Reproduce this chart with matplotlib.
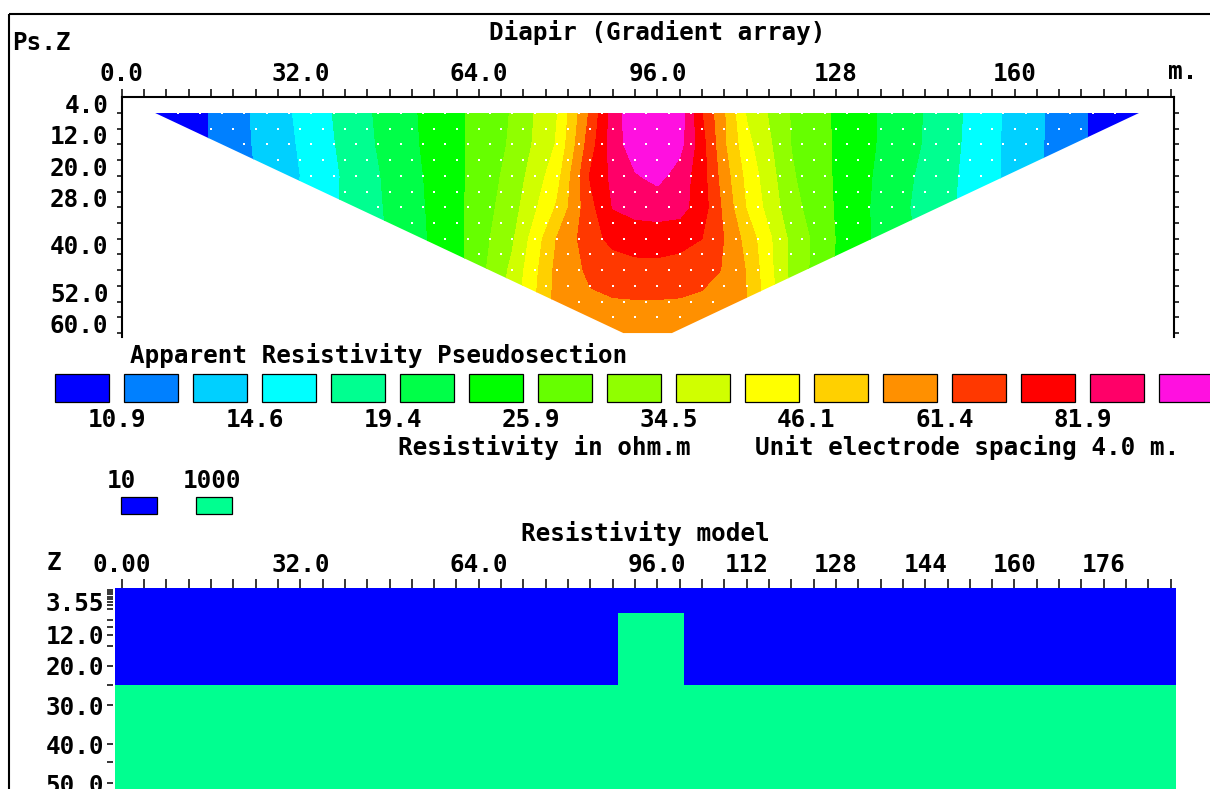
import numpy as np
import matplotlib
matplotlib.use("Agg")
import matplotlib.pyplot as plt
from matplotlib.patches import Polygon, Rectangle
from matplotlib.colors import ListedColormap, BoundaryNorm

plt.rcParams['font.family'] = ['DejaVu Sans Mono']
plt.rcParams['font.weight'] = 'bold'
plt.rcParams['font.size'] = 17.5

W, H = 1210, 789

# ------------------------------------------------------------------ data
title = "Diapir (Gradient array)"

# apparent resistivity (ohm.m)
ps_x = [0, 16, 32, 48, 60, 70, 78, 84, 88, 92, 96, 100, 104, 108, 112, 120, 130, 142, 156, 172, 188]
ps_depth = [4, 12, 20, 28, 36, 44, 52, 60]
ps_rho_d4 = [8.3, 11.0, 15.0, 20.6, 25.1, 30.2, 39.7, 63.0, 87.2, 106, 114, 103, 71.0, 53.6, 39.3, 29.6, 24.5, 20.0, 15.1, 11.1, 8.5]
ps_rho_d12 = [8.3, 11.0, 14.8, 20.4, 25.1, 30.5, 40.4, 66.7, 87.1, 103, 109, 99, 74.6, 54.1, 41.7, 29.8, 24.5, 19.9, 15.0, 11.1, 8.5]
ps_rho_d20 = [8.3, 10.9, 14.6, 20.0, 25.0, 31.4, 43.5, 71.9, 84.6, 93.3, 99, 88.8, 75.1, 56.7, 44.2, 30.4, 24.4, 19.4, 15.0, 11.1, 8.5]
ps_rho_d28 = [8.4, 11.2, 14.8, 19.8, 24.9, 32.4, 46.9, 67.9, 82.3, 85.3, 85.9, 85.9, 76.2, 59.0, 45.6, 31.4, 24.3, 19.1, 15.0, 11.1, 8.5]
ps_rho_d36 = [8.5, 11.3, 15.0, 19.6, 24.8, 33.8, 53.6, 67.0, 73.9, 76.6, 77.3, 75.1, 70.9, 61.1, 50.6, 33.2, 24.2, 19.4, 15.0, 11.1, 8.5]
ps_rho_d44 = [8.5, 11.3, 15.0, 19.6, 24.5, 35.6, 55.4, 63.2, 65.5, 67.0, 67.0, 66.0, 64.0, 60.9, 52.7, 33.0, 24.1, 19.4, 15.0, 11.1, 8.5]
ps_rho_d52 = [8.5, 11.3, 15.0, 19.6, 24.5, 37.1, 55.9, 60.0, 60.8, 61.0, 61.0, 60.8, 60.0, 57.2, 53.2, 34.5, 24.1, 19.4, 15.0, 11.1, 8.5]
ps_rho_d60 = [8.5, 11.3, 15.0, 19.6, 24.5, 37.0, 54.0, 58.0, 59.5, 60.0, 60.0, 59.5, 58.0, 56.0, 53.0, 34.5, 24.1, 19.4, 15.0, 11.1, 8.5]

# outline of the data coverage (x in m, pseudo depth in m)
ps_outline_x = [6.0, 182.3, 98.6, 89.9]
ps_outline_z = [4.0, 4.0, 60.0, 60.0]

# rows of data points (white dots)
dot_depth = [4, 8, 12, 16, 20, 24, 28, 32, 36, 40, 44, 48, 52, 56]
dot_first = [10, 16, 22, 28, 34, 40, 46, 52, 58, 64, 70, 76, 82, 88]
dot_last = [178, 172, 166, 160, 154, 148, 142, 136, 130, 124, 118, 112, 106, 100]
electrode_spacing = 4.0

contour_levels = [10.9, 12.6, 14.6, 16.8, 19.4, 22.4, 25.9, 29.9, 34.5,
                  39.9, 46.1, 53.2, 61.4, 70.9, 81.9, 94.6]
legend_labels = ["10.9", "14.6", "19.4", "25.9", "34.5", "46.1", "61.4", "81.9"]
level_colors = ["#0000FF", "#0080FF", "#00D0FF", "#00FFFF", "#00FF90", "#00FF48",
                "#00FF00", "#66FF00", "#90FF00", "#D0FF00", "#FFFF00", "#FFD000",
                "#FF9000", "#FF3800", "#FF0000", "#FF0068", "#FF10E0"]

ps_xtick_pos = [0, 32, 64, 96, 128, 160]
ps_xtick_lab = ["0.0", "32.0", "64.0", "96.0", "128", "160"]
ps_ytick_pos = [4, 12, 20, 28, 40, 52, 60]
ps_ytick_lab = ["4.0", "12.0", "20.0", "28.0", "40.0", "52.0", "60.0"]

# resistivity model
model_x_edges = [-1.2, 88.9, 100.8, 188.9]
model_z_edges = [0.0, 6.4, 24.9, 60.0]
model_rho = [[10, 10, 10],
             [10, 1000, 10],
             [1000, 1000, 1000]]
model_values = [10, 1000]
model_value_labels = ["10", "1000"]
model_colors = ["#0000FF", "#00FF90"]
model_xtick_pos = [0, 32, 64, 96, 112, 128, 144, 160, 176]
model_xtick_lab = ["0.00", "32.0", "64.0", "96.0", "112", "128", "144", "160", "176"]
model_ytick_pos = [3.55, 12.0, 20.0, 30.0, 40.0, 50.0]
model_ytick_lab = ["3.55", "12.0", "20.0", "30.0", "40.0", "50.0"]
model_layer_ticks = [0.5, 1.1, 1.7, 2.3, 2.9, 4.4, 5.4, 8.2, 10.1, 14.8, 24.9, 44.6]

# ------------------------------------------------------------------ figure
fig = plt.figure(figsize=(W / 100, H / 100), dpi=100)


def px_axes(l, t, r, b, **kw):
    return fig.add_axes([l / W, 1 - b / H, (r - l) / W, (b - t) / H], **kw)


# ---------------- pseudosection
ax = px_axes(121.7, 97.3, 1174.1, 337.0)
ax.set_xlim(0, 188.6)
ax.set_ylim(61, 0)
Z = np.log10(np.array([ps_rho_d4, ps_rho_d12, ps_rho_d20, ps_rho_d28,
                       ps_rho_d36, ps_rho_d44, ps_rho_d52, ps_rho_d60]))
levels = np.log10([1.0] + contour_levels + [1.0e4])
cs = ax.contourf(ps_x, ps_depth, Z, levels=levels, colors=level_colors)
clip = Polygon(np.column_stack([ps_outline_x, ps_outline_z]), closed=True,
               transform=ax.transData, facecolor='none', edgecolor='none')
cs.set_clip_path(clip)

dx, dz = [], []
for d, a, b in zip(dot_depth, dot_first, dot_last):
    row = np.arange(a, b + 0.1, electrode_spacing)
    dx.extend(row)
    dz.extend([d] * len(row))
ax.scatter(dx, dz, s=2.2, c='white', marker='s', linewidths=0, zorder=3)

xt = np.arange(0, 189, electrode_spacing)
ax.xaxis.tick_top()
ax.set_xticks(xt)
lab = dict(zip(ps_xtick_pos, ps_xtick_lab))
ax.set_xticklabels([lab.get(int(v), '') for v in xt])
yt = np.arange(4, 61, 4)
ax.set_yticks(yt)
lab = dict(zip(ps_ytick_pos, ps_ytick_lab))
ax.set_yticklabels([lab.get(int(v), '') for v in yt])
for t in ax.get_yticklabels():
    t.set_verticalalignment('baseline')
ax.tick_params(axis='x', direction='out', length=5.8, width=1.1, pad=2,
               top=True, bottom=False, labeltop=True, labelbottom=False)
ax.tick_params(axis='y', direction='out', length=3.6, width=1.1, pad=6,
               left=True, right=True, labelright=False)
ax.spines['bottom'].set_visible(False)
for s in ('left', 'top', 'right'):
    ax.spines[s].set_linewidth(1.5)

# ---------------- resistivity model
axm = px_axes(113.0, 587.8, 1176.3, 789.0)
axm.set_xlim(-1.56, 189.0)
axm.set_ylim(51.46, 0)
cmap = ListedColormap(model_colors)
norm = BoundaryNorm([1, 100, 1e5], cmap.N)
axm.pcolormesh(model_x_edges, model_z_edges, np.array(model_rho), cmap=cmap, norm=norm)
for s in axm.spines.values():
    s.set_visible(False)
axm.xaxis.tick_top()
axm.set_xticks(xt)
lab = dict(zip(model_xtick_pos, model_xtick_lab))
axm.set_xticklabels([lab.get(int(v), '') for v in xt])
axm.set_yticks(model_ytick_pos)
axm.set_yticklabels(model_ytick_lab)
axm.set_yticks(model_layer_ticks, minor=True)
axm.tick_params(axis='x', direction='out', length=6.5, width=1.1, pad=1,
                top=True, bottom=False, labeltop=True, labelbottom=False)
axm.tick_params(axis='y', which='both', direction='out', length=4.3, width=1.1, pad=2)

# ---------------- overlay: texts, legend, frame
ov = fig.add_axes([0, 0, 1, 1], zorder=5)
ov.set_xlim(0, W)
ov.set_ylim(H, 0)
ov.axis('off')
ov.patch.set_visible(False)

ov.plot([9, 9], [H, 14], color='black', lw=1.5, solid_capstyle='butt')
ov.plot([9, W], [14, 14], color='black', lw=1.5, solid_capstyle='butt')

ov.text(657, 32, title, ha='center', va='center')
ov.text(12, 43, "Ps.Z", ha='left', va='center')
ov.text(1183, 72, "m.", ha='center', va='center')
ov.text(130, 355, "Apparent Resistivity Pseudosection", ha='left', va='center')

for k, col in enumerate(level_colors):
    ov.add_patch(Rectangle((55 + 69 * k, 374), 54, 28, facecolor=col,
                           edgecolor='black', lw=0.9))
for j, t in enumerate(legend_labels):
    ov.text(116.5 + 138 * j, 420, t, ha='center', va='center')

ov.text(398, 447, "Resistivity in ohm.m", ha='left', va='center')
ov.text(755, 447, "Unit electrode spacing 4.0 m.", ha='left', va='center')

for j, (t, col) in enumerate(zip(model_value_labels, model_colors)):
    ov.text(121 + 91 * j, 481, t, ha='center', va='center')
    ov.add_patch(Rectangle((121 + 74.5 * j, 497), 36, 17, facecolor=col,
                           edgecolor='black', lw=0.9))

ov.text(645, 533, "Resistivity model", ha='center', va='center')
ov.text(54, 563, "Z", ha='center', va='center')

fig.savefig("out.png", dpi=100)
